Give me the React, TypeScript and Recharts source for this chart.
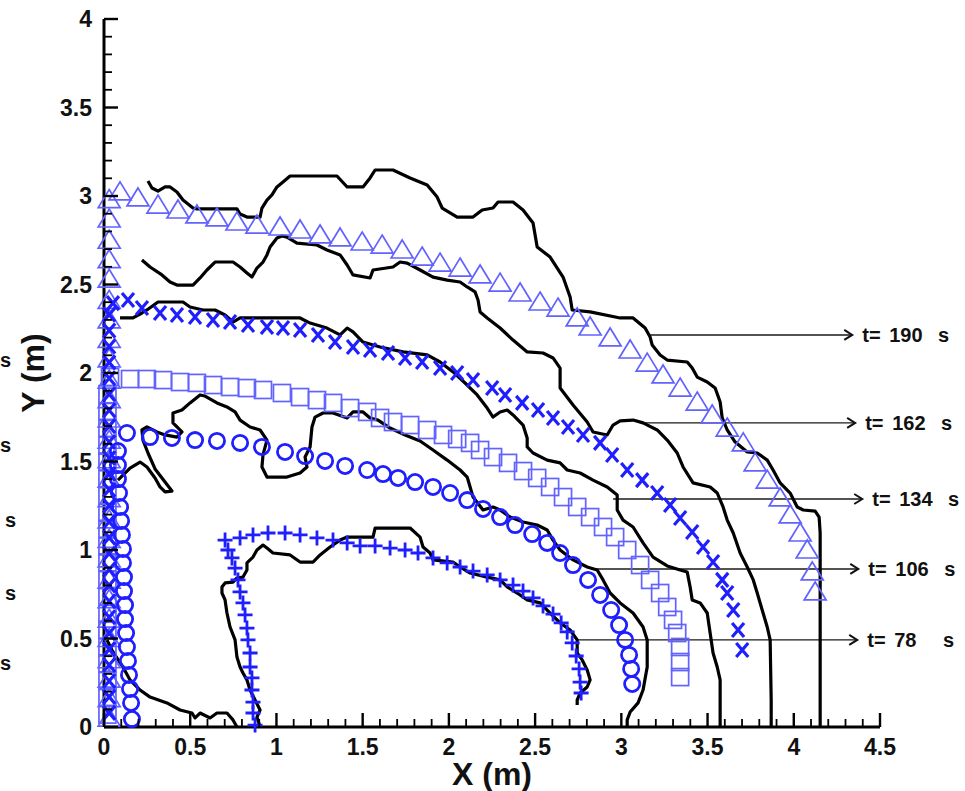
import { ScatterChart, Scatter, XAxis, YAxis } from "recharts"

type Pt = [number, number]

const FONT = '"Liberation Sans", Arial, Helvetica, sans-serif'
const INK = "#000"
const BLUE = "#1e1eff"
const PALE = "#6262ff"

const xMajorTicks = [0, 0.5, 1, 1.5, 2, 2.5, 3, 3.5, 4, 4.5]
const yMajorTicks = [0, 0.5, 1, 1.5, 2, 2.5, 3, 3.5, 4]
const minorPerMajor = 5

// labelled arrows on the right side
const frontTimes = [190, 162, 134, 106, 78]
const arrowY = [2.215, 1.718, 1.288, 0.893, 0.492]
const arrowFromX = [3.167, 3.126, 2.952, 2.831, 2.74]
const arrowToX = [4.339, 4.356, 4.397, 4.374, 4.368]

// simulated fronts (black contours)
const contour190: Pt[] = [
  [0.255, 3.085], [0.278, 3.045], [0.313, 3.028], [0.354, 3.051], [0.383, 3.051], [0.423, 3.023],
  [0.458, 2.977], [0.516, 2.932], [0.539, 2.927], [0.771, 2.927], [0.789, 2.898], [0.829, 2.881],
  [0.905, 2.881], [0.916, 2.932], [0.945, 2.977], [0.974, 3.006], [1.003, 3.051], [1.038, 3.079],
  [1.079, 3.113], [1.351, 3.113], [1.41, 3.051], [1.502, 3.051], [1.543, 3.102], [1.572, 3.147],
  [1.676, 3.147], [1.775, 3.102], [1.874, 3.062], [1.932, 2.994], [1.961, 2.932], [2.048, 2.881],
  [2.14, 2.881], [2.193, 2.921], [2.256, 2.932], [2.285, 2.966], [2.372, 2.966], [2.43, 2.921],
  [2.488, 2.847], [2.512, 2.712], [2.587, 2.655], [2.662, 2.542], [2.703, 2.429], [2.715, 2.356],
  [2.819, 2.345], [2.993, 2.311], [3.068, 2.311], [3.138, 2.254], [3.167, 2.203], [3.179, 2.158],
  [3.225, 2.102], [3.266, 2.073], [3.382, 2.062], [3.411, 2.028], [3.44, 1.977], [3.498, 1.949],
  [3.544, 1.915], [3.573, 1.836], [3.585, 1.746], [3.614, 1.678], [3.66, 1.61], [3.73, 1.554],
  [3.788, 1.548], [3.846, 1.508], [3.88, 1.452], [3.921, 1.379], [3.979, 1.322], [4.02, 1.243],
  [4.055, 1.226], [4.124, 1.22], [4.147, 1.186], [4.153, 1.096], [4.153, 0],
]
const contour162: Pt[] = [
  [0.22, 2.638], [0.267, 2.599], [0.336, 2.554], [0.383, 2.514], [0.423, 2.497], [0.516, 2.497],
  [0.557, 2.537], [0.597, 2.582], [0.644, 2.627], [0.748, 2.627], [0.789, 2.599], [0.829, 2.565],
  [0.858, 2.542], [0.887, 2.593], [0.922, 2.627], [0.945, 2.667], [0.963, 2.712], [1.003, 2.763],
  [1.032, 2.774], [1.061, 2.768], [1.119, 2.734], [1.235, 2.723], [1.293, 2.695], [1.369, 2.667],
  [1.41, 2.61], [1.444, 2.554], [1.543, 2.537], [1.56, 2.582], [1.676, 2.599], [1.717, 2.627],
  [1.758, 2.621], [1.833, 2.582], [1.908, 2.542], [1.99, 2.525], [2.065, 2.514], [2.106, 2.486],
  [2.152, 2.458], [2.169, 2.412], [2.181, 2.345], [2.222, 2.311], [2.297, 2.254], [2.372, 2.186],
  [2.454, 2.119], [2.546, 2.113], [2.604, 2.085], [2.645, 2.028], [2.645, 1.915], [2.72, 1.819],
  [2.802, 1.723], [2.836, 1.667], [2.918, 1.65], [2.952, 1.706], [2.993, 1.729], [3.068, 1.734],
  [3.126, 1.718], [3.208, 1.678], [3.266, 1.621], [3.324, 1.548], [3.358, 1.469], [3.416, 1.379],
  [3.515, 1.356], [3.556, 1.322], [3.59, 1.243], [3.614, 1.169], [3.649, 1.096], [3.689, 0.983],
  [3.73, 0.904], [3.765, 0.831], [3.788, 0.757], [3.822, 0.644], [3.846, 0.565], [3.863, 0.492],
  [3.869, 0.153], [3.869, 0],
]
const contour134: Pt[] = [
  [0.093, 2.311], [0.168, 2.311], [0.22, 2.339], [0.249, 2.356], [0.313, 2.401], [0.458, 2.401],
  [0.499, 2.373], [0.574, 2.356], [0.644, 2.356], [0.702, 2.328], [0.748, 2.288], [0.789, 2.311],
  [0.829, 2.311], [1.137, 2.311], [1.195, 2.282], [1.293, 2.254], [1.369, 2.215], [1.41, 2.254],
  [1.444, 2.232], [1.502, 2.175], [1.601, 2.147], [1.734, 2.119], [1.874, 2.102], [1.949, 2.062],
  [2.024, 2.006], [2.106, 1.932], [2.164, 1.876], [2.222, 1.802], [2.256, 1.751], [2.297, 1.78],
  [2.338, 1.791], [2.372, 1.763], [2.43, 1.706], [2.454, 1.633], [2.454, 1.582], [2.488, 1.548],
  [2.57, 1.508], [2.645, 1.492], [2.686, 1.452], [2.761, 1.435], [2.836, 1.395], [2.918, 1.356],
  [2.976, 1.311], [2.976, 1.226], [3.01, 1.169], [3.068, 1.13], [3.126, 1.04], [3.184, 0.96],
  [3.266, 0.91], [3.341, 0.887], [3.382, 0.876], [3.399, 0.791], [3.411, 0.718], [3.457, 0.701],
  [3.498, 0.644], [3.515, 0.531], [3.532, 0.418], [3.556, 0.339], [3.573, 0.266], [3.573, 0],
]
const contour106: Pt[] = [
  [0.081, 1.395], [0.151, 1.463], [0.209, 1.497], [0.249, 1.469], [0.296, 1.407], [0.325, 1.356],
  [0.354, 1.328], [0.394, 1.333], [0.354, 1.384], [0.296, 1.458], [0.255, 1.548], [0.226, 1.621],
  [0.22, 1.678], [0.249, 1.695], [0.307, 1.667], [0.354, 1.65], [0.423, 1.638], [0.452, 1.667],
  [0.4, 1.718], [0.4, 1.774], [0.452, 1.791], [0.499, 1.831], [0.557, 1.876], [0.586, 1.87],
  [0.655, 1.831], [0.713, 1.808], [0.76, 1.78], [0.789, 1.734], [0.847, 1.695], [0.905, 1.678],
  [0.945, 1.621], [0.922, 1.537], [0.916, 1.469], [0.945, 1.412], [1.061, 1.412], [1.137, 1.435],
  [1.177, 1.469], [1.166, 1.525], [1.195, 1.582], [1.206, 1.695], [1.224, 1.751], [1.27, 1.774],
  [1.328, 1.774], [1.41, 1.746], [1.444, 1.78], [1.502, 1.78], [1.543, 1.746], [1.589, 1.734],
  [1.659, 1.689], [1.746, 1.65], [1.833, 1.616], [1.908, 1.565], [1.99, 1.508], [2.065, 1.452],
  [2.106, 1.412], [2.123, 1.356], [2.14, 1.299], [2.198, 1.226], [2.256, 1.243], [2.297, 1.226],
  [2.355, 1.186], [2.43, 1.158], [2.512, 1.141], [2.57, 1.113], [2.604, 1.056], [2.645, 1.0],
  [2.72, 0.944], [2.802, 0.904], [2.86, 0.887], [2.894, 0.831], [2.935, 0.757], [2.993, 0.701],
  [3.068, 0.644], [3.126, 0.565], [3.15, 0.492], [3.15, 0.339], [3.126, 0.209], [3.097, 0.136],
  [3.051, 0.085], [3.034, 0.04], [3.034, 0],
]
const contour78: Pt[] = [
  [0.905, 0], [0.887, 0.056], [0.905, 0.096], [0.876, 0.153], [0.847, 0.209], [0.829, 0.266],
  [0.806, 0.305], [0.789, 0.339], [0.771, 0.395], [0.76, 0.492], [0.731, 0.565], [0.713, 0.644],
  [0.702, 0.718], [0.684, 0.757], [0.684, 0.791], [0.702, 0.814], [0.748, 0.819], [0.771, 0.842],
  [0.806, 0.847], [0.829, 0.887], [0.829, 0.927], [0.864, 0.96], [0.887, 1.0], [0.922, 1.028],
  [0.945, 1.011], [0.98, 0.983], [1.079, 0.972], [1.137, 0.932], [1.212, 0.932], [1.253, 0.972],
  [1.311, 1.017], [1.369, 1.056], [1.41, 1.073], [1.56, 1.073], [1.572, 1.124], [1.775, 1.124],
  [1.833, 1.073], [1.85, 1.017], [1.891, 0.983], [1.908, 0.944], [2.024, 0.932], [2.065, 0.904],
  [2.123, 0.87], [2.222, 0.847], [2.297, 0.831], [2.338, 0.791], [2.396, 0.757], [2.454, 0.718],
  [2.529, 0.701], [2.587, 0.644], [2.645, 0.588], [2.703, 0.548], [2.744, 0.492], [2.744, 0.418],
  [2.773, 0.379], [2.802, 0.322], [2.819, 0.266], [2.802, 0.226], [2.761, 0.192], [2.744, 0.153],
  [2.744, 0.124],
]
const contourCorner: Pt[] = [
  [0.017, 0.492], [0.046, 0.435], [0.075, 0.39], [0.11, 0.339], [0.151, 0.266], [0.209, 0.209],
  [0.267, 0.169], [0.365, 0.136], [0.441, 0.096], [0.51, 0.079], [0.528, 0.051], [0.557, 0.079],
  [0.615, 0.051], [0.655, 0.079], [0.713, 0.079], [0.748, 0.04], [0.771, 0],
]

// measured fronts (blue symbols)
const plus78: Pt[] = [
  [0.876, 0.011], [0.864, 0.079], [0.864, 0.141], [0.858, 0.209], [0.858, 0.277], [0.847, 0.339],
  [0.847, 0.418], [0.835, 0.492], [0.829, 0.559], [0.818, 0.633], [0.806, 0.701], [0.789, 0.763],
  [0.777, 0.831], [0.76, 0.898], [0.742, 0.955], [0.719, 1.0], [0.702, 1.056], [0.789, 1.068],
  [0.864, 1.085], [0.951, 1.096], [1.05, 1.096], [1.137, 1.085], [1.235, 1.068], [1.328, 1.056],
  [1.41, 1.04], [1.485, 1.023], [1.572, 1.023], [1.659, 1.011], [1.746, 1.0], [1.821, 0.983],
  [1.908, 0.955], [1.99, 0.927], [2.065, 0.904], [2.14, 0.881], [2.222, 0.859], [2.297, 0.831],
  [2.372, 0.802], [2.43, 0.768], [2.488, 0.729], [2.546, 0.684], [2.604, 0.638], [2.651, 0.588],
  [2.686, 0.537], [2.715, 0.475], [2.738, 0.401], [2.755, 0.328], [2.761, 0.254], [2.767, 0.192],
]
const circle106: Pt[] = [
  [0.162, 0.045], [0.157, 0.136], [0.151, 0.215], [0.145, 0.294], [0.139, 0.373], [0.133, 0.452],
  [0.128, 0.531], [0.122, 0.61], [0.122, 0.689], [0.116, 0.768], [0.116, 0.847], [0.11, 0.927],
  [0.11, 1.006], [0.104, 1.085], [0.099, 1.164], [0.093, 1.243], [0.087, 1.322], [0.081, 1.401],
  [0.081, 1.48], [0.081, 1.559], [0.133, 1.661], [0.267, 1.638], [0.394, 1.633], [0.528, 1.621],
  [0.655, 1.616], [0.789, 1.605], [0.916, 1.582], [1.05, 1.554], [1.166, 1.531], [1.282, 1.503],
  [1.398, 1.475], [1.526, 1.452], [1.618, 1.429], [1.705, 1.407], [1.804, 1.384], [1.908, 1.356],
  [2.007, 1.322], [2.106, 1.282], [2.198, 1.232], [2.297, 1.186], [2.384, 1.141], [2.483, 1.09],
  [2.57, 1.04], [2.645, 0.983], [2.72, 0.915], [2.807, 0.831], [2.877, 0.746], [2.941, 0.661],
  [2.987, 0.576], [3.022, 0.492], [3.045, 0.407], [3.057, 0.328], [3.063, 0.243],
]
const square134: Pt[] = [
  [0.02, 0.07], [0.02, 0.17], [0.02, 0.26], [0.02, 0.36], [0.02, 0.45], [0.02, 0.55], [0.02, 0.64],
  [0.02, 0.74], [0.02, 0.83], [0.02, 0.93], [0.02, 1.02], [0.02, 1.12], [0.02, 1.21], [0.02, 1.31],
  [0.02, 1.4], [0.02, 1.5], [0.02, 1.59], [0.02, 1.69], [0.02, 1.78], [0.02, 1.88],
  [0.035, 1.977], [0.151, 1.966], [0.249, 1.966], [0.342, 1.96], [0.441, 1.949], [0.539, 1.944],
  [0.632, 1.932], [0.731, 1.921], [0.829, 1.915], [0.922, 1.904], [1.032, 1.887], [1.137, 1.864],
  [1.235, 1.847], [1.328, 1.831], [1.427, 1.802], [1.526, 1.78], [1.601, 1.746], [1.676, 1.723],
  [1.775, 1.706], [1.874, 1.678], [1.966, 1.65], [2.048, 1.627], [2.123, 1.605], [2.181, 1.565],
  [2.256, 1.525], [2.343, 1.492], [2.43, 1.446], [2.512, 1.407], [2.587, 1.356], [2.662, 1.299],
  [2.744, 1.243], [2.819, 1.186], [2.894, 1.13], [2.964, 1.073], [3.034, 1.0], [3.109, 0.915],
  [3.167, 0.831], [3.225, 0.757], [3.266, 0.678], [3.3, 0.605], [3.324, 0.531], [3.341, 0.452],
  [3.341, 0.367], [3.341, 0.282],
]
const cross162: Pt[] = [
  [0.03, 0.08], [0.03, 0.17], [0.03, 0.26], [0.03, 0.35], [0.03, 0.44], [0.03, 0.53], [0.03, 0.62],
  [0.03, 0.71], [0.03, 0.8], [0.03, 0.89], [0.03, 0.98], [0.03, 1.07], [0.03, 1.16], [0.03, 1.25],
  [0.03, 1.34], [0.03, 1.43], [0.03, 1.52], [0.03, 1.61], [0.03, 1.7], [0.03, 1.79], [0.03, 1.88],
  [0.03, 1.97], [0.03, 2.06], [0.03, 2.15], [0.03, 2.24], [0.03, 2.33],
  [0.052, 2.395], [0.139, 2.412], [0.22, 2.367], [0.325, 2.339], [0.423, 2.328], [0.528, 2.316],
  [0.632, 2.299], [0.731, 2.288], [0.835, 2.271], [0.945, 2.26], [1.038, 2.254], [1.137, 2.243],
  [1.241, 2.215], [1.34, 2.175], [1.444, 2.147], [1.543, 2.13], [1.647, 2.113], [1.746, 2.085],
  [1.845, 2.062], [1.949, 2.028], [2.048, 2.0], [2.14, 1.96], [2.251, 1.915], [2.326, 1.876],
  [2.425, 1.831], [2.517, 1.791], [2.604, 1.746], [2.691, 1.695], [2.778, 1.65], [2.877, 1.605],
  [2.947, 1.537], [3.034, 1.452], [3.121, 1.395], [3.208, 1.322], [3.283, 1.254], [3.341, 1.181],
  [3.411, 1.102], [3.474, 1.017], [3.532, 0.932], [3.585, 0.831], [3.614, 0.757], [3.649, 0.661],
  [3.677, 0.548], [3.701, 0.435],
]
const tri190: Pt[] = [
  [0.03, 0.05], [0.03, 0.16], [0.03, 0.27], [0.03, 0.38], [0.03, 0.5], [0.03, 0.61], [0.03, 0.72],
  [0.03, 0.83], [0.03, 0.95], [0.03, 1.06], [0.03, 1.17], [0.03, 1.29], [0.03, 1.4], [0.03, 1.51],
  [0.03, 1.62], [0.03, 1.74], [0.03, 1.85], [0.03, 1.96], [0.03, 2.08], [0.03, 2.19], [0.03, 2.3],
  [0.03, 2.41], [0.03, 2.53], [0.03, 2.64], [0.03, 2.75], [0.03, 2.87], [0.03, 2.98],
  [0.093, 3.023], [0.197, 2.989], [0.313, 2.949], [0.429, 2.921], [0.539, 2.893], [0.655, 2.876],
  [0.771, 2.853], [0.887, 2.836], [1.021, 2.825], [1.137, 2.808], [1.253, 2.78], [1.369, 2.763],
  [1.497, 2.74], [1.613, 2.723], [1.729, 2.695], [1.845, 2.655], [1.949, 2.621], [2.065, 2.593],
  [2.181, 2.554], [2.297, 2.508], [2.413, 2.452], [2.529, 2.401], [2.633, 2.367], [2.744, 2.311],
  [2.819, 2.26], [2.935, 2.198], [3.051, 2.13], [3.15, 2.056], [3.242, 1.989], [3.341, 1.915],
  [3.44, 1.836], [3.527, 1.763], [3.614, 1.689], [3.707, 1.605], [3.776, 1.492], [3.846, 1.395],
  [3.921, 1.294], [3.979, 1.198], [4.037, 1.096], [4.078, 1.0], [4.107, 0.876], [4.124, 0.763],
]

const pts = (a: Pt[]) => a.map(([x, y]) => ({ x, y }))

const withMinor = (major: number[]) => {
  const out: number[] = []
  major.forEach((v, i) => {
    out.push(v)
    const next = major[i + 1]
    if (next === undefined) return
    for (let k = 1; k < minorPerMajor; k++) {
      out.push(Math.round((v + ((next - v) * k) / minorPerMajor) * 1000) / 1000)
    }
  })
  return out
}
const isMajor = (v: number, major: number[]) => major.some((m) => Math.abs(m - v) < 1e-6)

const tickText = { fontFamily: FONT, fontWeight: 700, fontSize: 23, fill: "#111" }

const XTick = (props: any) => {
  const { x, y, payload } = props
  const major = isMajor(payload.value, xMajorTicks)
  return (
    <g>
      <line x1={x} x2={x} y1={y} y2={y - (major ? 14 : 8)} stroke={INK} strokeWidth={major ? 2.4 : 1.8} />
      {major && (
        <text x={x} y={y + 28} textAnchor="middle" {...tickText}>
          {String(payload.value)}
        </text>
      )}
    </g>
  )
}

const YTick = (props: any) => {
  const { x, y, payload } = props
  const major = isMajor(payload.value, yMajorTicks)
  return (
    <g>
      <line x1={x} x2={x + (major ? 14 : 8)} y1={y} y2={y} stroke={INK} strokeWidth={major ? 2.4 : 1.8} />
      {major && (
        <text x={x - 12} y={y + 8} textAnchor="end" {...tickText}>
          {String(payload.value)}
        </text>
      )}
    </g>
  )
}

// symbol shapes
const NoDot = () => <g />
const Plus = ({ cx, cy }: any) => (
  <path d={`M${cx - 7.5},${cy}H${cx + 7.5}M${cx},${cy - 7.5}V${cy + 7.5}`} stroke={BLUE} strokeWidth={2.8} fill="none" />
)
const Ring = ({ cx, cy }: any) => <circle cx={cx} cy={cy} r={7.6} fill="none" stroke={BLUE} strokeWidth={2.8} />
const Box = ({ cx, cy }: any) => (
  <rect x={cx - 8.5} y={cy - 8.5} width={17} height={17} fill="none" stroke={PALE} strokeWidth={1.7} />
)
const Cross = ({ cx, cy }: any) => (
  <path
    d={`M${cx - 6},${cy - 7}L${cx + 6},${cy + 7}M${cx + 6},${cy - 7}L${cx - 6},${cy + 7}`}
    stroke={BLUE}
    strokeWidth={3.2}
    fill="none"
  />
)
const Tri = ({ cx, cy }: any) => (
  <path d={`M${cx},${cy - 10}L${cx + 11},${cy + 8}L${cx - 11},${cy + 8}Z`} fill="none" stroke={PALE} strokeWidth={1.7} />
)

const labelText = { fontFamily: FONT, fontWeight: 700, fontSize: 20, fill: "#111" }
const ArrowTip = ({ cx, cy, payload }: any) => (
  <g>
    <path d={`M${cx - 8},${cy - 5}L${cx},${cy}L${cx - 8},${cy + 5}`} stroke="#111" strokeWidth={2} fill="none" />
    <text x={cx + 10} y={cy + 7} {...labelText}>t=</text>
    <text x={cx + 37} y={cy + 7} {...labelText}>{payload.t}</text>
    <text x={cx + 97} y={cy + 7} textAnchor="end" {...labelText}>s</text>
  </g>
)

const contours = [contour190, contour162, contour134, contour106, contour78, contourCorner]
const arrows = frontTimes.map((t, i) => [
  { x: arrowFromX[i], y: arrowY[i] },
  { x: arrowToX[i], y: arrowY[i] },
])
const arrowTips = frontTimes.map((t, i) => ({ x: arrowToX[i], y: arrowY[i], t }))

// unit letters along the left edge
const edgeLetters = [
  { x: 0, y: 367 },
  { x: 0, y: 452 },
  { x: 5, y: 527 },
  { x: 5, y: 600 },
  { x: 0, y: 670 },
]

export default function App() {
  return (
    <div style={{ position: "absolute", left: 0, top: 0, background: "#fff" }}>
      <ScatterChart width={965} height={791} margin={{ top: 19, right: 85, bottom: 24, left: 44 }}>
        <XAxis
          type="number"
          dataKey="x"
          domain={[0, 4.5]}
          ticks={withMinor(xMajorTicks)}
          interval={0}
          tickSize={0}
          tickMargin={0}
          tickLine={false}
          axisLine={{ stroke: INK, strokeWidth: 3 }}
          tick={XTick}
          height={40}
        />
        <YAxis
          type="number"
          dataKey="y"
          domain={[0, 4]}
          ticks={withMinor(yMajorTicks)}
          interval={0}
          tickSize={0}
          tickMargin={0}
          tickLine={false}
          axisLine={{ stroke: INK, strokeWidth: 3 }}
          tick={YTick}
          width={60}
        />

        {arrows.map((a, i) => (
          <Scatter
            key={`arrow-${i}`}
            data={a}
            line={{ stroke: "#1a1a1a", strokeWidth: 1.4 }}
            shape={NoDot}
            isAnimationActive={false}
          />
        ))}
        <Scatter data={arrowTips} shape={ArrowTip} isAnimationActive={false} />

        {contours.map((c, i) => (
          <Scatter
            key={`front-${i}`}
            data={pts(c)}
            line={{ stroke: INK, strokeWidth: 3.2, strokeLinejoin: "round" }}
            shape={NoDot}
            isAnimationActive={false}
          />
        ))}

        <Scatter data={pts(tri190)} shape={Tri} isAnimationActive={false} />
        <Scatter data={pts(square134)} shape={Box} isAnimationActive={false} />
        <Scatter data={pts(cross162)} shape={Cross} isAnimationActive={false} />
        <Scatter data={pts(circle106)} shape={Ring} isAnimationActive={false} />
        <Scatter data={pts(plus78)} shape={Plus} isAnimationActive={false} />

        <g fontFamily={FONT} fontWeight={700} fill="#111">
          <text x={492} y={785} fontSize={32} textAnchor="middle">
            X (m)
          </text>
          <text transform="translate(44,373) rotate(-90)" fontSize={32} textAnchor="middle">
            Y (m)
          </text>
          {edgeLetters.map((p, i) => (
            <text key={i} x={p.x} y={p.y} fontSize={20}>
              s
            </text>
          ))}
        </g>
      </ScatterChart>
    </div>
  )
}
